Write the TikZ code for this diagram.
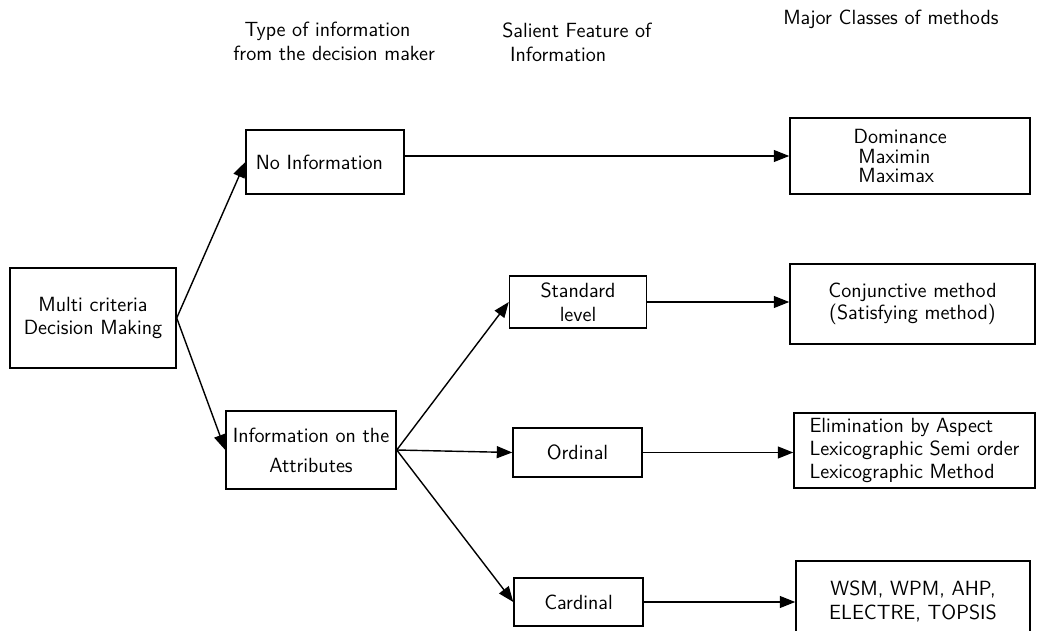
\documentclass[tikz,border=0pt]{standalone}
\usetikzlibrary{arrows.meta}
\begin{document}
\begin{tikzpicture}[x=0.025cm,y=-0.025cm,font=\sffamily\fontsize{14.6}{17}\selectfont,
  box/.style={draw,line width=1pt,align=center,inner sep=0pt},
  arr/.style={-{Triangle[length=11pt,width=8.5pt]},line width=1pt}]
  \useasboundingbox (0,0) rectangle (1040,631);
  % headings
  \node[align=left,anchor=west,inner sep=0pt] (hType) at (233,41) {\hspace*{8pt}Type of information\\from the decision maker};
  \node[align=left,anchor=west,inner sep=0pt] (hSal) at (502,42.5) {Salient Feature of\\\hspace*{5.6pt}Information};
  \node[anchor=base west,inner sep=0pt] (hMaj) at (783,25) {Major Classes of methods};
  % boxes
  \node[box,minimum width=4.15cm,minimum height=2.5cm] (mcdm) at (93,318) {Multi criteria\\Decision Making};
  \node[box,minimum width=3.95cm,minimum height=1.6cm] (noinf) at (325,162) {No Information\hspace*{8pt}};
  \node[box,minimum width=4.25cm,minimum height=1.95cm] (attr) at (311,450) {Information on the\\[4.3pt]Attributes};
  \node[box,minimum width=3.425cm,minimum height=1.3cm] (std) at (578,302) {Standard\\level};
  \node[box,minimum width=3.225cm,minimum height=1.225cm] (ord) at (577.5,452.5) {Ordinal};
  \node[box,minimum width=3.225cm,minimum height=1.2cm] (card) at (578.5,602) {Cardinal};
  \node[box,align=left,minimum width=6cm,minimum height=1.9cm] (dom) at (910,156) {Dominance\hspace*{14pt}\\[-3.2pt]\hspace*{3.5pt}Maximin\\[-3.2pt]\hspace*{3.5pt}Maximax};
  \node[box,minimum width=6.125cm,minimum height=2cm] (conj) at (912.5,304) {Conjunctive method\\[-1.4pt](Satisfying method)};
  \node[box,align=left,minimum width=6.025cm,minimum height=1.875cm] (elim) at (914.5,450.5) {Elimination by Aspect\\[-0.7pt]Lexicographic Semi order\\[-0.7pt]Lexicographic Method};
  \node[box,minimum width=5.85cm,minimum height=2cm] (wsm) at (913,601) {WSM, WPM, AHP,\\ELECTRE, TOPSIS};
  % connectors
  \draw[arr] (mcdm.east) -- (noinf.west);
  \draw[arr] (mcdm.east) -- (attr.west);
  \draw[arr] (attr.east) -- (std.west);
  \draw[arr] (attr.east) -- (ord.west);
  \draw[arr] (attr.east) -- (card.west);
  \draw[arr] (dom.west -| noinf.east) -- (dom.west);
  \draw[arr] (std.east) -- (std.east -| conj.west);
  \draw[arr] (ord.east) -- (ord.east -| elim.west);
  \draw[arr] (card.east) -- (card.east -| wsm.west);
\end{tikzpicture}
\end{document}
